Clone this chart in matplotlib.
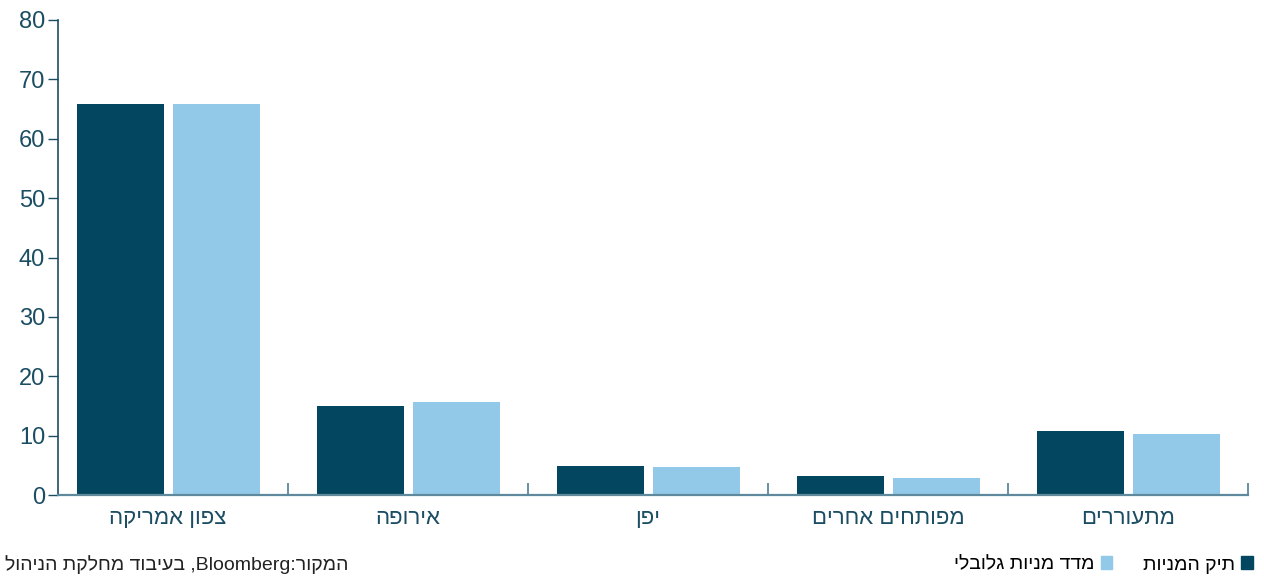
import matplotlib.pyplot as plt
import numpy as np
from matplotlib.patches import Patch

# matplotlib has no bidi support, so Hebrew strings are given in visual order
def rtl(text):
    return text[::-1]


regions = ["צפון אמריקה", "אירופה", "יפן", "מפותחים אחרים", "מתעוררים"]
portfolio = [65.8, 15.0, 4.9, 3.2, 10.8]
global_index = [65.8, 15.7, 4.7, 2.9, 10.3]
y_ticks = [0, 10, 20, 30, 40, 50, 60, 70, 80]

portfolio_label = "תיק המניות"
index_label = "מדד מניות גלובלי"
source_note = rtl("בעיבוד מחלקת הניהול") + " ,Bloomberg:" + rtl("המקור")

DARK = "#02475f"
LIGHT = "#92c9e8"
TEXT = "#1b4d63"
FONT = ["Liberation Sans", "DejaVu Sans"]

plt.rcParams["font.family"] = FONT


def draw_bars(ax):
    x = np.arange(len(regions))
    width = 0.3625
    ax.bar(x - 0.2, portfolio, width, color=DARK)
    ax.bar(x + 0.2, global_index, width, color=LIGHT)

    ax.set_xlim(-0.5 + 10 / 240, len(regions) - 0.5)
    ax.set_ylim(0, 80)
    ax.set_yticks(y_ticks)
    ax.tick_params(axis="y", direction="out", length=7.2, width=1,
                   color=TEXT, labelcolor=TEXT, labelsize=17, pad=2)

    ax.set_xticks(x)
    ax.set_xticklabels([rtl(r) for r in regions])
    ax.tick_params(axis="x", length=0, labelcolor=TEXT, labelsize=16, pad=9)
    ax.set_xticks(np.arange(len(regions)) + 0.5, minor=True)
    ax.tick_params(axis="x", which="minor", direction="in", length=8.5,
                   width=1.2, color="#4d7c92")

    for side in ["top", "right"]:
        ax.spines[side].set_visible(False)
    ax.spines["left"].set_color(TEXT)
    ax.spines["left"].set_linewidth(1.2)
    ax.spines["bottom"].set_color("#5f8a9d")
    ax.spines["bottom"].set_linewidth(1.6)


def draw_footer(fig):
    fig.text(5 / 1264, 1 - 565 / 576, source_note, ha="left", va="center",
             fontsize=14, color="#222222")
    handles = [Patch(color=LIGHT, label=rtl(index_label)),
               Patch(color=DARK, label=rtl(portfolio_label))]
    fig.legend(handles=handles, ncol=2, markerfirst=False, frameon=False,
               loc="center right", bbox_to_anchor=(1253 / 1264, 1 - 565 / 576),
               fontsize=14, handlelength=0.6, handleheight=0.6,
               handletextpad=0.3, columnspacing=1.6, borderaxespad=0,
               borderpad=0)


fig = plt.figure(figsize=(12.64, 5.76), dpi=100)
ax = fig.add_axes([58 / 1264, 81 / 576, 1190 / 1264, 475 / 576])
draw_bars(ax)
draw_footer(fig)
fig.savefig("out.png", dpi=100)
